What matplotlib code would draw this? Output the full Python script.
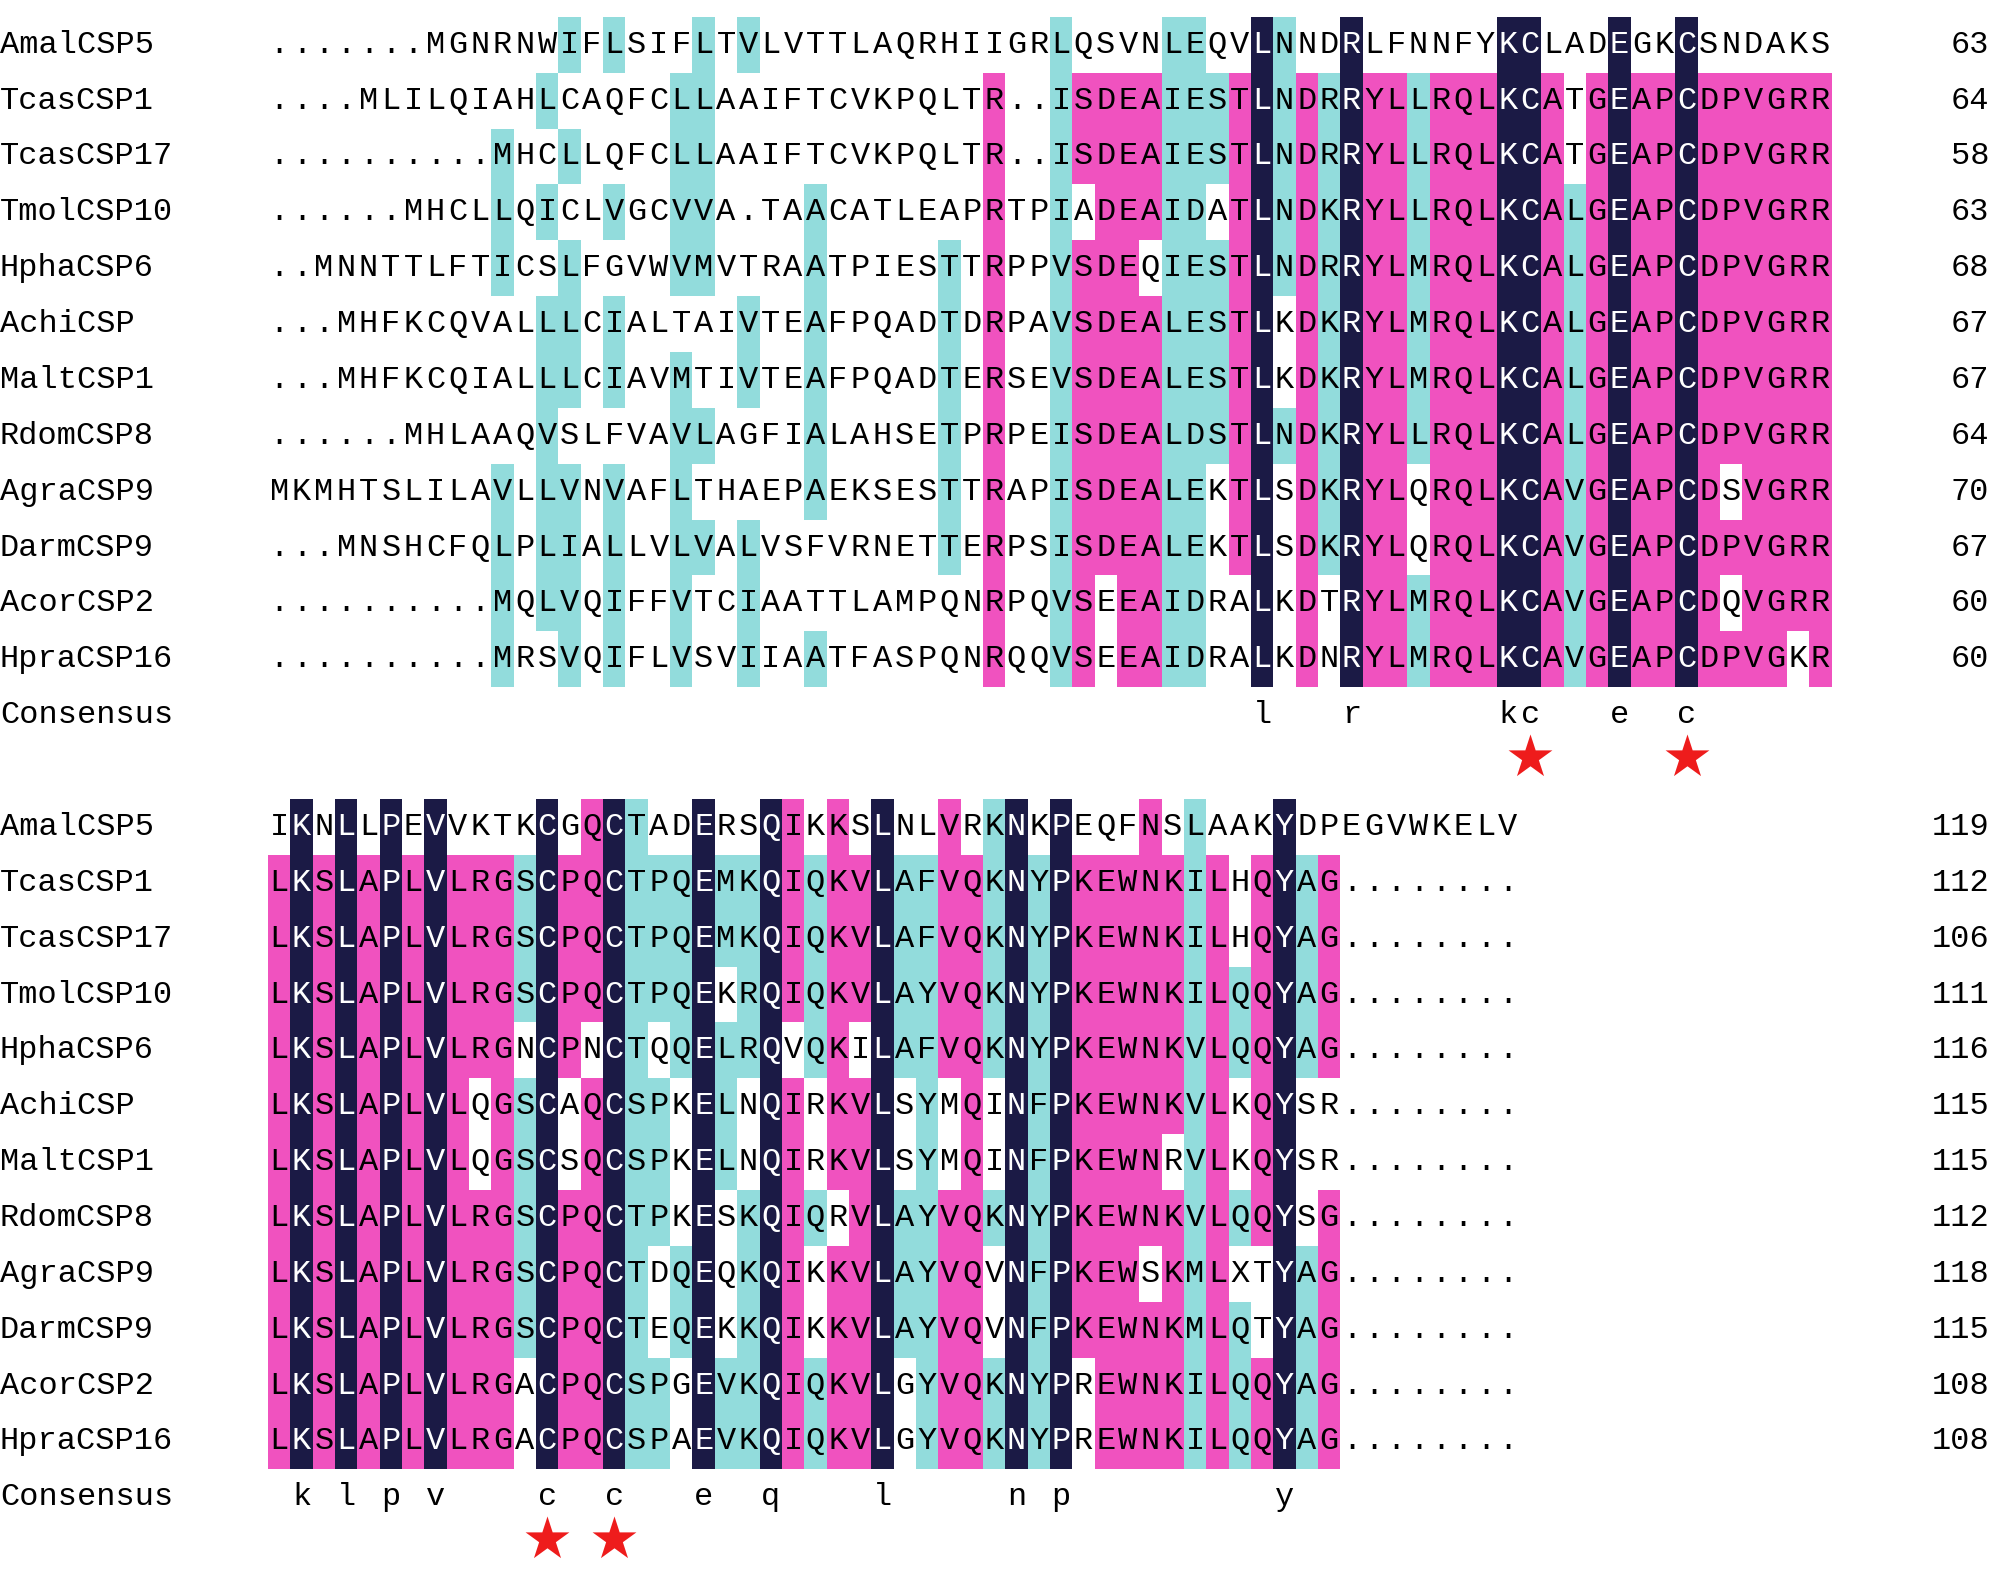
import numpy as np
from matplotlib import pyplot as plt
from matplotlib.patches import Rectangle
from collections import Counter

names = ['AmalCSP5', 'TcasCSP1', 'TcasCSP17', 'TmolCSP10', 'HphaCSP6', 'AchiCSP',
         'MaltCSP1', 'RdomCSP8', 'AgraCSP9', 'DarmCSP9', 'AcorCSP2', 'HpraCSP16']

block1 = [
    '.......MGNRNWIFLSIFLTVLVTTLAQRHIIGRLQSVNLEQVLNNDRLFNNFYKCLADEGKCSNDAKS',
    '....MLILQIAHLCAQFCLLAAIFTCVKPQLTR..ISDEAIESTLNDRRYLLRQLKCATGEAPCDPVGRR',
    '..........MHCLLQFCLLAAIFTCVKPQLTR..ISDEAIESTLNDRRYLLRQLKCATGEAPCDPVGRR',
    '......MHCLLQICLVGCVVA.TAACATLEAPRTPIADEAIDATLNDKRYLLRQLKCALGEAPCDPVGRR',
    '..MNNTTLFTICSLFGVWVMVTRAATPIESTTRPPVSDEQIESTLNDRRYLMRQLKCALGEAPCDPVGRR',
    '...MHFKCQVALLLCIALTAIVTEAFPQADTDRPAVSDEALESTLKDKRYLMRQLKCALGEAPCDPVGRR',
    '...MHFKCQIALLLCIAVMTIVTEAFPQADTERSEVSDEALESTLKDKRYLMRQLKCALGEAPCDPVGRR',
    '......MHLAAQVSLFVAVLAGFIALAHSETPRPEISDEALDSTLNDKRYLLRQLKCALGEAPCDPVGRR',
    'MKMHTSLILAVLLVNVAFLTHAEPAEKSESTTRAPISDEALEKTLSDKRYLQRQLKCAVGEAPCDSVGRR',
    '...MNSHCFQLPLIALLVLVALVSFVRNETTERPSISDEALEKTLSDKRYLQRQLKCAVGEAPCDPVGRR',
    '..........MQLVQIFFVTCIAATTLAMPQNRPQVSEEAIDRALKDTRYLMRQLKCAVGEAPCDQVGRR',
    '..........MRSVQIFLVSVIIAATFASPQNRQQVSEEAIDRALKDNRYLMRQLKCAVGEAPCDPVGKR',
]
ends1 = [63, 64, 58, 63, 68, 67, 67, 64, 70, 67, 60, 60]

block2 = [
    'IKNLLPEVVKTKCGQCTADERSQIKKSLNLVRKNKPEQFNSLAAKYDPEGVWKELV',
    'LKSLAPLVLRGSCPQCTPQEMKQIQKVLAFVQKNYPKEWNKILHQYAG........',
    'LKSLAPLVLRGSCPQCTPQEMKQIQKVLAFVQKNYPKEWNKILHQYAG........',
    'LKSLAPLVLRGSCPQCTPQEKRQIQKVLAYVQKNYPKEWNKILQQYAG........',
    'LKSLAPLVLRGNCPNCTQQELRQVQKILAFVQKNYPKEWNKVLQQYAG........',
    'LKSLAPLVLQGSCAQCSPKELNQIRKVLSYMQINFPKEWNKVLKQYSR........',
    'LKSLAPLVLQGSCSQCSPKELNQIRKVLSYMQINFPKEWNRVLKQYSR........',
    'LKSLAPLVLRGSCPQCTPKESKQIQRVLAYVQKNYPKEWNKVLQQYSG........',
    'LKSLAPLVLRGSCPQCTDQEQKQIKKVLAYVQVNFPKEWSKMLXTYAG........',
    'LKSLAPLVLRGSCPQCTEQEKKQIKKVLAYVQVNFPKEWNKMLQTYAG........',
    'LKSLAPLVLRGACPQCSPGEVKQIQKVLGYVQKNYPREWNKILQQYAG........',
    'LKSLAPLVLRGACPQCSPAEVKQIQKVLGYVQKNYPREWNKILQQYAG........',
]
ends2 = [119, 112, 106, 111, 116, 115, 115, 112, 118, 115, 108, 108]

groups = ['ILVM', 'FYW', 'KRH', 'DE', 'ST', 'NQ']

NAVY = '#1b1a45'
MAGENTA = '#f052bf'
CYAN = '#92dcdc'
FONT = 'Liberation Mono'


def group_of(ch):
    for g in groups:
        if ch in g:
            return g
    return ch


def column_colors(seqs):
    n = len(seqs)
    cols = []
    for c in range(len(seqs[0])):
        res = [s[c] for s in seqs]
        cnt = Counter(r for r in res if r != '.')
        colors = [None] * n
        if cnt:
            top, k = cnt.most_common(1)[0]
            if k == n:
                colors = [NAVY] * n
            elif k >= 0.75 * n:
                colors = [MAGENTA if r == top else None for r in res]
            else:
                gcnt = Counter(group_of(r) for r in res if r != '.')
                g, gk = gcnt.most_common(1)[0]
                if gk >= 0.5 * n:
                    colors = [CYAN if (r != '.' and group_of(r) == g) else None for r in res]
        cols.append(colors)
    return cols


fig = plt.figure(figsize=(20.06, 15.7), dpi=100)
ax = fig.add_axes([0, 0, 1, 1])
ax.set_xlim(-12.0, 77.8)
ax.set_ylim(27.3, -0.8)
ax.axis('off')

fs = 23


def draw_block(seqs, ends, r0, stars):
    colors = column_colors(seqs)
    for i, (nm, s) in enumerate(zip(names, seqs)):
        r = r0 + i
        ax.text(-12.0, r, nm, family=FONT, fontsize=fs, ha='left', va='center')
        ax.text(77.05, r, str(ends[i]), family=FONT, fontsize=fs, ha='right', va='center')
        for c, ch in enumerate(s):
            col = colors[c][i]
            if col is not None:
                ax.add_patch(Rectangle((c, r - 0.5), 1, 1, color=col, lw=0))
            ax.text(c + 0.5, r, ch, family=FONT, fontsize=fs, ha='center', va='center',
                    color='white' if col == NAVY else 'black')
    r = r0 + len(seqs)
    ax.text(-12.0, r, 'Consensus', family=FONT, fontsize=fs, ha='left', va='center')
    for c in range(len(seqs[0])):
        if colors[c][0] == NAVY:
            ax.text(c + 0.5, r, seqs[0][c].lower(), family=FONT, fontsize=fs,
                    ha='center', va='center')
    ax.scatter([c + 0.5 for c in stars], [r + 0.75] * len(stars), marker='*',
               s=1100, color='#ee1c1c', lw=0)


stars1 = [i for i in range(len(block1[0])) if block1[0][i] == 'C' and all(s[i] == 'C' for s in block1)]
stars2 = [i for i in range(len(block2[0])) if all(s[i] == 'C' for s in block2)]
draw_block(block1, ends1, 0, stars1)
draw_block(block2, ends2, 14, stars2)

plt.savefig('out.png', dpi=100)
